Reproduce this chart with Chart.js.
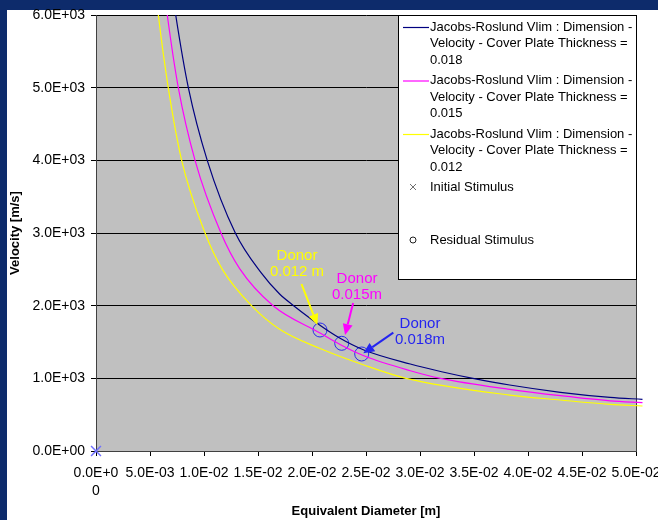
<!DOCTYPE html>
<html>
<head>
<meta charset="utf-8">
<title>Jacobs-Roslund Vlim</title>
<script src="https://cdn.jsdelivr.net/npm/chart.js@4.4.1/dist/chart.umd.min.js"></script>
<style>
  html, body { margin: 0; padding: 0; background: #0d2b6b; }
  #myChart { display: block; }
</style>
</head>
<body>
<canvas id="myChart" width="658" height="520"></canvas>
<script>
// equivalent diameter [m] and velocity [m/s]
var diam018 = [0.0070, 0.00738, 0.00855, 0.0103, 0.0129, 0.0153, 0.0170, 0.0183, 0.0207, 0.0226, 0.0248, 0.0291, 0.0320, 0.0349, 0.0383, 0.0430, 0.0476, 0.0506];
var vel018  = [6400, 6000, 5000, 4000, 3000, 2450, 2160, 2000, 1734, 1551, 1390, 1197, 1091, 1000, 908, 808, 738, 711];

var diam015 = [0.00625, 0.0066, 0.00762, 0.00917, 0.01157, 0.0133, 0.0164, 0.0207, 0.0226, 0.0248, 0.0291, 0.0319, 0.0383, 0.0430, 0.0476, 0.0506];
var vel015  = [6430, 6000, 5000, 4000, 3000, 2510, 2000, 1628, 1465, 1310, 1105, 1000, 849, 761, 690, 665];

var diam012 = [0.00545, 0.00577, 0.00669, 0.00793, 0.0101, 0.0117, 0.0144, 0.0170, 0.0207, 0.0248, 0.0287, 0.0383, 0.0430, 0.0476, 0.0506];
var vel012  = [6440, 6000, 5000, 4000, 3000, 2500, 2000, 1675, 1413, 1183, 1000, 770, 702, 642, 619];

var initialDiam = [0];
var initialVel  = [0];

var residualDiam = [0.02074, 0.02275, 0.0246];
var residualVel  = [1665, 1482, 1335];

var seriesLabels = [
  'Jacobs-Roslund Vlim : Dimension - Velocity - Cover Plate Thickness = 0.018',
  'Jacobs-Roslund Vlim : Dimension - Velocity - Cover Plate Thickness = 0.015',
  'Jacobs-Roslund Vlim : Dimension - Velocity - Cover Plate Thickness = 0.012',
  'Initial Stimulus',
  'Residual Stimulus'
];

var donorText = [['Donor', '0.012 m'], ['Donor', '0.015m'], ['Donor', '0.018m']];

// where the donor notes sit, in axis units
var donorNotes = [
  { color: '#ffff00', at: [0.01861, 2573], from: [0.01903, 2298], to: [0.0205, 1734] },
  { color: '#ff00ff', at: [0.02417, 2257], from: [0.02381, 2037], to: [0.02306, 1596] },
  { color: '#2424f0', at: [0.0300, 1638],  from: [0.02753, 1628], to: [0.02475, 1344] }
];

var FONT = '"Liberation Sans", Arial, sans-serif';

function toPoints(xs, ys) {
  return xs.map(function(x, i) { return { x: x, y: ys[i] }; });
}

function sci(v) {
  var s = Number(v).toExponential(1).split('e');
  var e = parseInt(s[1], 10);
  var n = Math.abs(e);
  return s[0] + 'E' + (e < 0 ? '-' : '+') + (n < 10 ? '0' : '') + n;
}

function wrapText(ctx, text, maxWidth) {
  var words = text.split(' ');
  var lines = [];
  var line = '';
  words.forEach(function(w) {
    var test = line ? line + ' ' + w : w;
    if (ctx.measureText(test).width > maxWidth && line) {
      lines.push(line);
      line = w;
    } else {
      line = test;
    }
  });
  if (line) lines.push(line);
  return lines;
}

function drawArrow(ctx, x1, y1, x2, y2, color) {
  var ang = Math.atan2(y2 - y1, x2 - x1);
  var len = 11, half = 5;
  var bx = x2 - len * Math.cos(ang), by = y2 - len * Math.sin(ang);
  ctx.strokeStyle = color;
  ctx.fillStyle = color;
  ctx.lineWidth = 2;
  ctx.beginPath();
  ctx.moveTo(x1, y1);
  ctx.lineTo(bx, by);
  ctx.stroke();
  ctx.beginPath();
  ctx.moveTo(x2, y2);
  ctx.lineTo(bx + half * Math.sin(ang), by - half * Math.cos(ang));
  ctx.lineTo(bx - half * Math.sin(ang), by + half * Math.cos(ang));
  ctx.closePath();
  ctx.fill();
}

var chartDecor = {
  id: 'chartDecor',
  beforeDraw: function(chart) {
    var ctx = chart.ctx, a = chart.chartArea;
    ctx.save();
    ctx.fillStyle = '#0d2b6b';
    ctx.fillRect(0, 0, chart.width, chart.height);
    ctx.fillStyle = '#ffffff';
    ctx.fillRect(7, 10, chart.width - 7, chart.height - 10);
    ctx.fillStyle = '#c0c0c0';
    ctx.fillRect(a.left, a.top, a.right - a.left, a.bottom - a.top);
    ctx.restore();
  },
  beforeDatasetsDraw: function(chart) {
    var ctx = chart.ctx, a = chart.chartArea;
    ctx.save();
    ctx.strokeStyle = '#404040';
    ctx.lineWidth = 1;
    ctx.beginPath();
    ctx.moveTo(Math.round(a.right) + 0.5, a.top);
    ctx.lineTo(Math.round(a.right) + 0.5, a.bottom);
    ctx.stroke();
    ctx.restore();
  },
  afterDatasetsDraw: function(chart) {
    var ctx = chart.ctx;
    var xs = chart.scales.x, ys = chart.scales.y;
    ctx.save();
    donorNotes.forEach(function(n, i) {
      drawArrow(ctx,
        xs.getPixelForValue(n.from[0]), ys.getPixelForValue(n.from[1]),
        xs.getPixelForValue(n.to[0]), ys.getPixelForValue(n.to[1]), n.color);
      var cx = xs.getPixelForValue(n.at[0]);
      var cy = ys.getPixelForValue(n.at[1]);
      ctx.fillStyle = n.color;
      ctx.font = '15px ' + FONT;
      ctx.textAlign = 'center';
      ctx.textBaseline = 'middle';
      ctx.fillText(donorText[i][0], cx, cy - 8);
      ctx.fillText(donorText[i][1], cx, cy + 8);
    });
    ctx.restore();
  },
  afterDraw: function(chart) {
    var ctx = chart.ctx, a = chart.chartArea;
    var boxL = 398, boxT = a.top, boxR = a.right, boxB = 279;
    ctx.save();
    ctx.fillStyle = '#ffffff';
    ctx.fillRect(boxL, boxT, boxR - boxL, boxB - boxT);
    ctx.strokeStyle = '#000000';
    ctx.lineWidth = 1;
    ctx.strokeRect(boxL + 0.5, boxT + 0.5, boxR - boxL, boxB - boxT);

    ctx.font = '13px ' + FONT;
    ctx.textAlign = 'left';
    ctx.textBaseline = 'middle';
    var textX = 430;
    var ds = chart.data.datasets;
    var y = boxT + 12;
    for (var i = 0; i < 3; i++) {
      ctx.strokeStyle = ds[i].borderColor;
      ctx.lineWidth = 1.2;
      ctx.beginPath();
      ctx.moveTo(403, y + 0.5);
      ctx.lineTo(429, y + 0.5);
      ctx.stroke();
      ctx.fillStyle = '#000000';
      var lines = wrapText(ctx, ds[i].label, boxR - textX - 1);
      lines.forEach(function(l, k) { ctx.fillText(l, textX, y + k * 16.5); });
      y += 53.5;
    }
    // initial stimulus marker
    var my = 187;
    ctx.strokeStyle = '#707070';
    ctx.lineWidth = 1;
    ctx.beginPath();
    ctx.moveTo(410, my - 3); ctx.lineTo(416, my + 3);
    ctx.moveTo(416, my - 3); ctx.lineTo(410, my + 3);
    ctx.stroke();
    ctx.fillStyle = '#000000';
    ctx.fillText(ds[3].label, textX, my);
    // residual stimulus marker
    my = 240;
    ctx.strokeStyle = '#202020';
    ctx.beginPath();
    ctx.arc(413, my, 3, 0, Math.PI * 2);
    ctx.stroke();
    ctx.fillText(ds[4].label, textX, my);
    ctx.restore();
  }
};

function init() {
  var ctx = document.getElementById('myChart').getContext('2d');
  var chart = new Chart(ctx, {
    type: 'scatter',
    data: {
      datasets: [{
        label: seriesLabels[0],
        data: toPoints(diam018, vel018),
        showLine: true,
        borderColor: '#000080',
        borderWidth: 1.2,
        pointRadius: 0,
        cubicInterpolationMode: 'monotone',
        clip: { left: 0, top: 0, right: 8, bottom: 0 }
      }, {
        label: seriesLabels[1],
        data: toPoints(diam015, vel015),
        showLine: true,
        borderColor: '#ff00ff',
        borderWidth: 1.2,
        pointRadius: 0,
        cubicInterpolationMode: 'monotone',
        clip: { left: 0, top: 0, right: 8, bottom: 0 }
      }, {
        label: seriesLabels[2],
        data: toPoints(diam012, vel012),
        showLine: true,
        borderColor: '#ffff00',
        borderWidth: 1.2,
        pointRadius: 0,
        cubicInterpolationMode: 'monotone',
        clip: { left: 0, top: 0, right: 8, bottom: 0 }
      }, {
        label: seriesLabels[3],
        data: toPoints(initialDiam, initialVel),
        pointStyle: 'crossRot',
        pointRadius: 7,
        borderColor: '#7070ff',
        borderWidth: 1.5,
        clip: false
      }, {
        label: seriesLabels[4],
        data: toPoints(residualDiam, residualVel),
        pointStyle: 'circle',
        pointRadius: 7,
        borderColor: '#2a2af0',
        backgroundColor: 'rgba(0,0,0,0)',
        borderWidth: 1
      }]
    },
    options: {
      responsive: false,
      animation: false,
      layout: { padding: { left: 7, top: 15, right: 22, bottom: 0 } },
      plugins: {
        legend: { display: false },
        tooltip: { enabled: false }
      },
      scales: {
        x: {
          type: 'linear',
          min: 0,
          max: 0.05,
          afterFit: function(scale) {
            scale.height = 69;
            scale.paddingLeft = 0;
            scale.paddingRight = 0;
          },
          ticks: {
            stepSize: 0.005,
            autoSkip: false,
            maxRotation: 0,
            minRotation: 0,
            padding: 8,
            color: '#000000',
            font: { family: FONT, size: 14, lineHeight: 1.3 },
            callback: function(v) {
              if (v === 0) return ['0.0E+0', '0'];
              return sci(v);
            }
          },
          grid: {
            drawOnChartArea: false,
            drawTicks: true,
            tickLength: 5,
            tickColor: '#000000'
          },
          border: { display: true, color: '#404040' },
          title: {
            display: true,
            text: 'Equivalent Diameter [m]',
            color: '#000000',
            font: { family: FONT, size: 13, weight: 'bold' },
            padding: { top: 0, bottom: 1 }
          }
        },
        y: {
          type: 'linear',
          min: 0,
          max: 6000,
          afterFit: function(scale) {
            scale.width = 89;
            scale.paddingTop = 0;
            scale.paddingBottom = 0;
          },
          ticks: {
            stepSize: 1000,
            padding: 6,
            color: '#000000',
            font: { family: FONT, size: 14 },
            callback: function(v) { return sci(v); }
          },
          grid: {
            color: '#000000',
            lineWidth: 1,
            drawTicks: true,
            tickLength: 5,
            tickColor: '#000000'
          },
          border: { display: true, color: '#404040' },
          title: {
            display: true,
            text: 'Velocity [m/s]',
            color: '#000000',
            font: { family: FONT, size: 13, weight: 'bold' },
            padding: { top: 1, bottom: 0 }
          }
        }
      }
    },
    plugins: [chartDecor]
  });
}

init();
</script>
</body>
</html>
